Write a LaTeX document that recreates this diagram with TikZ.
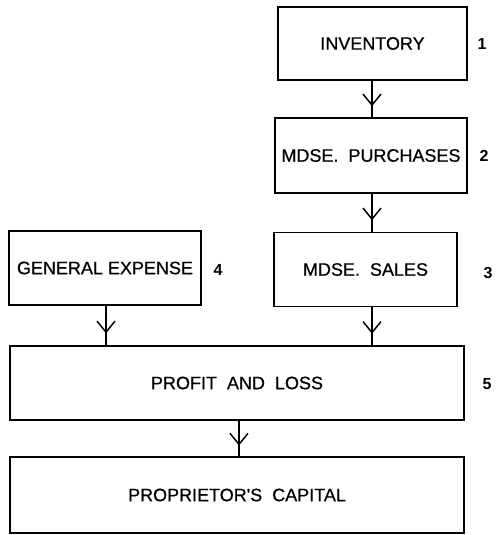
\documentclass[tikz,border=0pt]{standalone}
\usepackage{fontspec}
\setmainfont{Liberation Sans}
\newfontfamily\boxfont[FakeBold=0.6]{Liberation Sans}
\usetikzlibrary{arrows.meta,decorations.markings}
\tikzset{
  acct/.style={draw, line width=1.8pt, rectangle, inner sep=0pt, font=\boxfont\fontsize{18}{20}\selectfont},
  num/.style={font=\bfseries\fontsize{16}{18}\selectfont, inner sep=0pt},
  flow/.style={line width=1.6pt, postaction={decorate},
    decoration={markings, mark=at position 0.7 with {\arrow[line width=1.5pt]{Straight Barb[length=11pt,width=18pt]}}}}
}
\begin{document}
\begin{tikzpicture}[x=1pt,y=-1pt]
\useasboundingbox (0,0) rectangle (495,535);
\node[acct, minimum width=189pt, minimum height=73pt] (inv) at (372.5,43.5) {INVENTORY};
\node[acct, minimum width=192pt, minimum height=75pt] (pur) at (371,155.5) {MDSE.\ \ PURCHASES};
\node[acct, minimum width=183pt, minimum height=74pt] (sal) at (365.5,269.5) {MDSE.\ \ SALES};
\node[acct, minimum width=192pt, minimum height=74pt] (gen) at (105,268) {GENERAL EXPENSE};
\node[acct, minimum width=454pt, minimum height=74pt] (pl) at (237,383) {PROFIT\ \ AND\ \ LOSS};
\node[acct, minimum width=454pt, minimum height=76pt] (cap) at (237,495) {PROPRIETOR'S\ \ CAPITAL};
\node[num] (n1) at (482,44) {1};
\node[num] (n2) at (484,156) {2};
\node[num] (n3) at (488,273) {3};
\node[num] (n4) at (218,270) {4};
\node[num] (n5) at (487,384) {5};
\coordinate (c1) at (372,0);
\coordinate (c2) at (106,0);
\coordinate (c3) at (239,0);
\draw[flow] (c1 |- inv.south) -- (c1 |- pur.north);
\draw[flow] (c1 |- pur.south) -- (c1 |- sal.north);
\draw[flow] (c1 |- sal.south) -- (c1 |- pl.north);
\draw[flow] (c2 |- gen.south) -- (c2 |- pl.north);
\draw[flow] (c3 |- pl.south) -- (c3 |- cap.north);
\end{tikzpicture}
\end{document}
